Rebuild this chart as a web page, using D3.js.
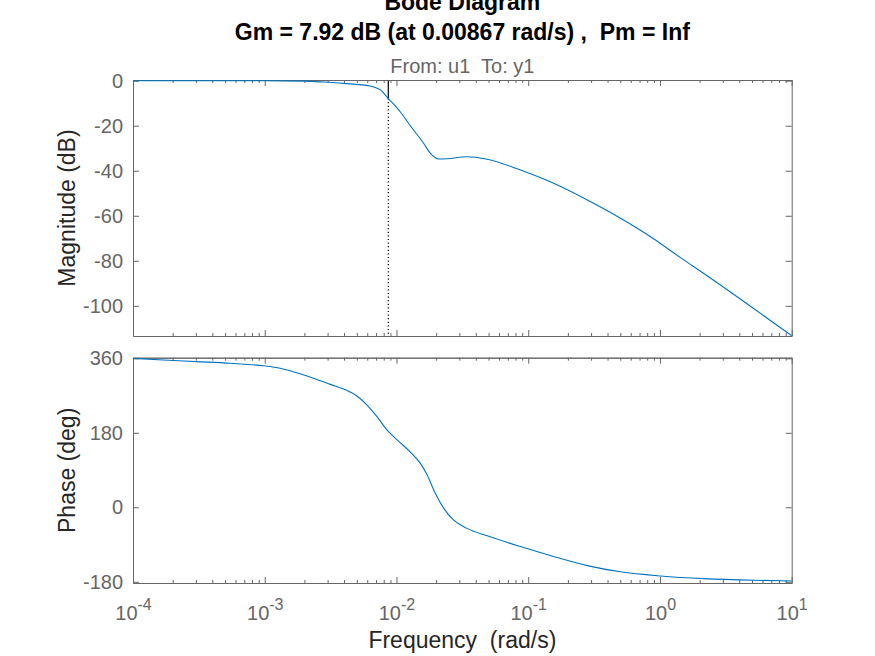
<!DOCTYPE html>
<html>
<head>
<meta charset="utf-8">
<title>Bode Diagram</title>
<style>
    body { margin: 0; background: #fff; }
    text { font-family: "Liberation Sans", Arial, sans-serif; }
    .tick text { fill: #666; font-size: 20px; }
    .axis path, .axis line { stroke: #666; }
    .ylabel, .xlabel { fill: #262626; font-size: 23px; }
</style>
</head>
<body>
<div id="chart"></div>

<script src="https://d3js.org/d3.v7.min.js"></script>
<script>

    // magnitude (rad/s, dB)
    var magFreq = [1e-4, 3.24e-4, 9.3e-4, 2.0e-3, 2.8e-3, 3.98e-3, 6.3e-3, 7.6e-3, 8.67e-3,
                   0.0107, 0.0127, 0.0161, 0.0181, 0.0209, 0.0242, 0.0344, 0.0488,
                   0.0873, 0.156, 0.281, 0.502, 0.900, 1.43, 1.87, 10];
    var magDb   = [0, 0, -0.05, -0.2, -0.6, -1.2, -2.4, -4.2, -7.92,
                   -13.9, -19.9, -27.9, -32.3, -34.8, -34.7, -33.8, -34.9,
                   -39.7, -45.6, -53.0, -61.1, -70.3, -78.6, -83.2, -113.3];

    // phase (rad/s, deg)
    var phaseFreq = [1e-4, 1.70e-4, 3.05e-4, 5.46e-4, 9.77e-4, 1.31e-3, 1.75e-3, 2.34e-3,
                     3.14e-3, 4.21e-3, 5.01e-3, 5.97e-3, 7.11e-3, 8.47e-3, 0.0101,
                     0.0127, 0.0152, 0.0171, 0.0197, 0.0228, 0.0272, 0.0343, 0.0488,
                     0.0873, 0.156, 0.281, 0.502, 1.01, 2.16, 5.18, 10];
    var phaseDeg  = [360, 356, 352, 348, 342, 336, 325, 312,
                     297, 282, 269, 247, 219, 187, 163,
                     134, 106, 78, 34, -2, -31, -51, -69,
                     -95, -119, -141, -156, -166, -172.5, -176.4, -178];

    var magTicks = [-100, -80, -60, -40, -20, 0];
    var phaseTicks = [-180, 0, 180, 360];
    var freqMajor = [1e-4, 1e-3, 1e-2, 1e-1, 1, 10];
    var freqExp = ["-4", "-3", "-2", "-1", "0", "1"];

    var gmValue = 7.92, gmFreq = 0.00867;

    var width = 875, height = 656;
    var left = 133, right = 791.7;
    var magBox = {top: 80, bottom: 336};
    var phBox = {top: 357.7, bottom: 583};

    var svg = d3.select("#chart").append("svg")
        .attr("width", width)
        .attr("height", height);

    svg.append("rect").attr("width", width).attr("height", height).attr("fill", "#fff");

    // scales
    var xScale = d3.scaleLog().domain([1e-4, 10]).range([left, right]);
    var yMag = d3.scaleLinear().domain([-113.4, 0.3]).range([magBox.bottom, magBox.top]);
    var yPh = d3.scaleLinear().domain([-183, 361.5]).range([phBox.bottom, phBox.top]);

    // minor ticks 2..9 in each decade
    var freqMinor = [];
    for (var e = -4; e < 1; e++) {
        for (var k = 2; k < 10; k++) freqMinor.push(k * Math.pow(10, e));
    }

    // plain hyphen like the original, not the unicode minus
    var plain = function(d) { return String(d); };

    function drawBox(box, yScale, yTicks, showX) {
        var g = svg.append("g");

        // minor x ticks top & bottom
        g.append("g").attr("class", "axis")
            .attr("transform", "translate(0," + box.bottom + ")")
            .call(d3.axisBottom(xScale).tickValues(freqMinor).tickFormat("").tickSize(-3).tickSizeOuter(0));
        g.append("g").attr("class", "axis")
            .attr("transform", "translate(0," + box.top + ")")
            .call(d3.axisTop(xScale).tickValues(freqMinor).tickFormat("").tickSize(-3).tickSizeOuter(0));

        // major x ticks
        var xb = g.append("g").attr("class", "axis xb")
            .attr("transform", "translate(0," + box.bottom + ")")
            .call(d3.axisBottom(xScale).tickValues(freqMajor).tickFormat("").tickSize(-6).tickSizeOuter(0));
        g.append("g").attr("class", "axis")
            .attr("transform", "translate(0," + box.top + ")")
            .call(d3.axisTop(xScale).tickValues(freqMajor).tickFormat("").tickSize(-6).tickSizeOuter(0));

        // y axes left & right
        g.append("g").attr("class", "axis")
            .attr("transform", "translate(" + left + ",0)")
            .call(d3.axisLeft(yScale).tickValues(yTicks).tickFormat(plain).tickSize(-6).tickSizeOuter(0).tickPadding(10));
        g.append("g").attr("class", "axis")
            .attr("transform", "translate(" + right + ",0)")
            .call(d3.axisRight(yScale).tickValues(yTicks).tickFormat("").tickSize(-6).tickSizeOuter(0));

        g.selectAll(".axis").attr("font-family", null).attr("font-size", null);

        if (showX) {
            xb.selectAll(".tick text")
                .attr("dy", null)
                .attr("y", 36.5)
                .text("10")
                .append("tspan")
                .attr("dy", -10)
                .attr("font-size", "16px")
                .text(function(d, i) { return freqExp[i]; });
        }
        return g;
    }

    drawBox(magBox, yMag, magTicks, false);
    drawBox(phBox, yPh, phaseTicks, true);

    // clip regions
    var defs = svg.append("defs");
    defs.append("clipPath").attr("id", "clipMag").append("rect")
        .attr("x", left).attr("y", magBox.top).attr("width", right - left).attr("height", magBox.bottom - magBox.top);
    defs.append("clipPath").attr("id", "clipPh").append("rect")
        .attr("x", left).attr("y", phBox.top).attr("width", right - left).attr("height", phBox.bottom - phBox.top);

    var magLine = d3.line()
        .x(function(d, i) { return xScale(magFreq[i]); })
        .y(function(d) { return yMag(d); })
        .curve(d3.curveMonotoneX);

    var phLine = d3.line()
        .x(function(d, i) { return xScale(phaseFreq[i]); })
        .y(function(d) { return yPh(d); })
        .curve(d3.curveMonotoneX);

    // gain margin marker
    svg.append("line")
        .attr("x1", xScale(gmFreq)).attr("x2", xScale(gmFreq))
        .attr("y1", yMag(0)).attr("y2", yMag(-gmValue))
        .attr("stroke", "#000").attr("stroke-width", 1.2);
    svg.append("line")
        .attr("x1", xScale(gmFreq)).attr("x2", xScale(gmFreq))
        .attr("y1", yMag(-gmValue)).attr("y2", magBox.bottom)
        .attr("stroke", "#000").attr("stroke-width", 1.2)
        .attr("stroke-dasharray", "1.2,2.4");

    svg.append("path")
        .datum(magDb)
        .attr("clip-path", "url(#clipMag)")
        .attr("fill", "none")
        .attr("stroke", "#0072BD")
        .attr("stroke-width", 1.1)
        .attr("d", magLine);

    svg.append("path")
        .datum(phaseDeg)
        .attr("clip-path", "url(#clipPh)")
        .attr("fill", "none")
        .attr("stroke", "#0072BD")
        .attr("stroke-width", 1.1)
        .attr("d", phLine);

    // titles
    var cx = (left + right) / 2;
    svg.append("text")
        .attr("x", cx).attr("y", 10)
        .attr("text-anchor", "middle")
        .attr("font-weight", "bold").attr("font-size", "23px")
        .text("Bode Diagram");
    svg.append("text")
        .attr("x", cx).attr("y", 40)
        .attr("text-anchor", "middle")
        .attr("font-weight", "bold").attr("font-size", "23px")
        .attr("xml:space", "preserve")
        .style("white-space", "pre")
        .text("Gm = 7.92 dB (at 0.00867 rad/s) ,  Pm = Inf");
    svg.append("text")
        .attr("x", cx).attr("y", 73)
        .attr("text-anchor", "middle")
        .attr("fill", "#666").attr("font-size", "20px")
        .attr("xml:space", "preserve")
        .style("white-space", "pre")
        .text("From: u1  To: y1");

    // axis labels
    svg.append("text")
        .attr("class", "ylabel")
        .attr("transform", "translate(75," + (magBox.top + magBox.bottom) / 2 + ") rotate(-90)")
        .attr("text-anchor", "middle")
        .text("Magnitude (dB)");
    svg.append("text")
        .attr("class", "ylabel")
        .attr("transform", "translate(75," + (phBox.top + phBox.bottom) / 2 + ") rotate(-90)")
        .attr("text-anchor", "middle")
        .text("Phase (deg)");
    svg.append("text")
        .attr("class", "xlabel")
        .attr("x", cx).attr("y", 648)
        .attr("text-anchor", "middle")
        .attr("xml:space", "preserve")
        .style("white-space", "pre")
        .text("Frequency  (rad/s)");

</script>
</body>
</html>
